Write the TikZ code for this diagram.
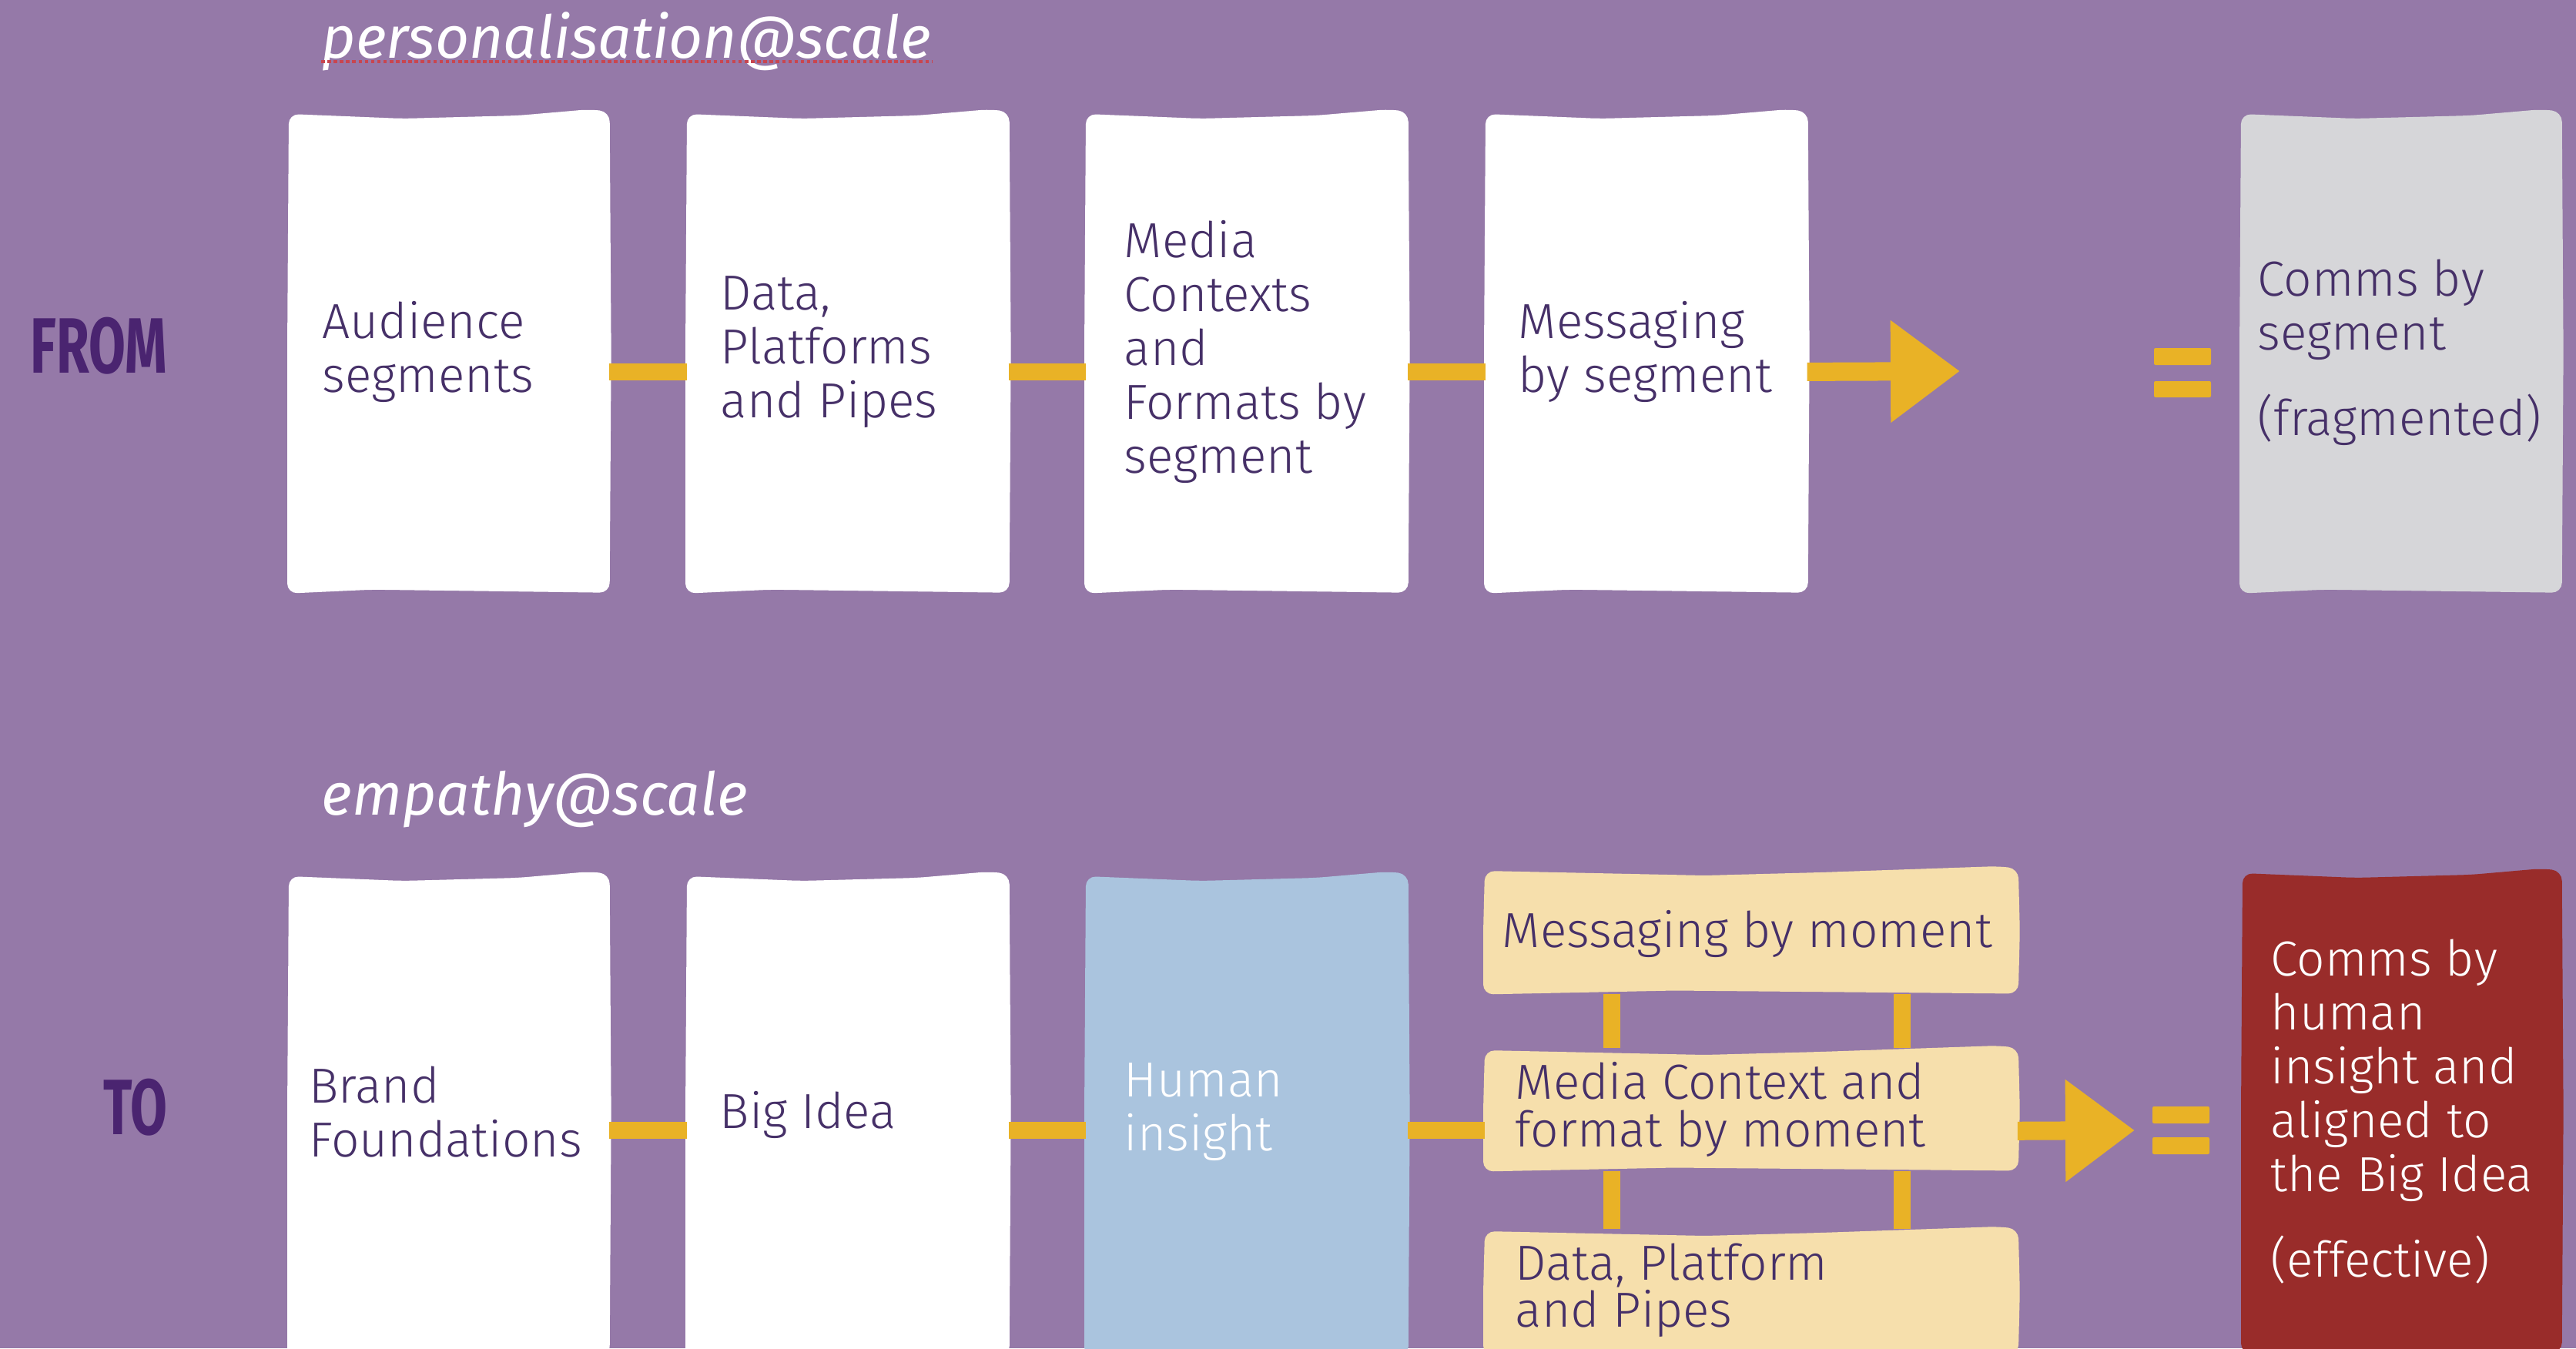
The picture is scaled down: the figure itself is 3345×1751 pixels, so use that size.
\documentclass[tikz,border=0pt]{standalone}
\usepackage{fontspec}
\setmainfont{Fira Sans}[UprightFont=* Light, ItalicFont=* Italic, BoldFont=* Bold]
\newfontfamily\headfont{Fira Sans}[FakeStretch=0.68]
\usetikzlibrary{arrows.meta}

\definecolor{bgpurple}{RGB}{149,121,168}
\definecolor{gold}{RGB}{233,178,38}
\definecolor{ink}{RGB}{70,48,104}
\definecolor{rowlabel}{RGB}{74,36,112}
\definecolor{greybox}{RGB}{214,214,217}
\definecolor{bluebox}{RGB}{170,196,222}
\definecolor{creambox}{RGB}{246,223,172}
\definecolor{redbox}{RGB}{153,44,42}
\definecolor{spellred}{RGB}{200,70,80}

\tikzset{
  panel/.style={inner sep=0pt, anchor=north west},
  txt/.style={inner sep=0pt, anchor=west, align=left, text=ink,
    font=\fontsize{18.2pt}{19.9pt}\selectfont},
  tighttxt/.style={txt, font=\fontsize{18.2pt}{17.6pt}\selectfont},
  heading/.style={inner sep=0pt, anchor=base west, text=white,
    font=\fontsize{21.8pt}{24pt}\selectfont\itshape},
  rowtag/.style={inner sep=0pt, anchor=east, text=rowlabel,
    font=\headfont\bfseries\fontsize{29pt}{30pt}\selectfont},
  conn/.style={draw=gold, line width=0.22cm},
  flow/.style={draw=gold, line width=0.24cm,
    -{Triangle[length=0.9cm, width=1.27cm]}},
  eqbar/.style={fill=gold, rounded corners=0.02cm},
}

% hand-cut card filled around the frame of a named node
\newcommand\handpanel[2]{%
  \fill[#2, rounded corners=0.13cm]
    ([yshift=-0.03cm]#1.north west)
    -- ([xshift=-0.6cm, yshift=-0.09cm]#1.north)
    -- ([xshift=0.9cm, yshift=-0.05cm]#1.north)
    -- ([xshift=-0.25cm, yshift=0.03cm]#1.north east)
    -- ([xshift=0.01cm]#1.north east)
    -- ([xshift=0.03cm]#1.east)
    -- ([xshift=0.01cm]#1.south east)
    -- ([xshift=-1.0cm, yshift=0.04cm]#1.south)
    -- ([xshift=-0.02cm, yshift=-0.01cm]#1.south west)
    -- ([xshift=-0.02cm]#1.west)
    -- cycle;}

\begin{document}
\begin{tikzpicture}[x=0.01cm, y=-0.01cm]
\fill[bgpurple] (0,0) rectangle (3345,1751);
\useasboundingbox (0,0) rectangle (3345,1751);
\clip (0,0) rectangle (3345,1751);

% headings
\node[heading] (ttlA) at (417,75) {personalisation@scale};
\draw[spellred, densely dotted, line width=1.3pt]
  ([yshift=-0.05cm]ttlA.base west) -- ([yshift=-0.05cm]ttlA.base east);
\node[heading] (ttlB) at (417,1058) {empathy@scale};

% row tags
\node[rowtag] (from) at (218,449) {FROM};
\node[rowtag] (to) at (218,1438) {TO};

% ---------- FROM row ----------
\node[panel, minimum width=4.14cm, minimum height=6.23cm] (a1) at (375,145) {};
\node[panel, minimum width=4.16cm, minimum height=6.23cm] (a2) at (892,145) {};
\node[panel, minimum width=4.16cm, minimum height=6.23cm] (a3) at (1410,145) {};
\node[panel, minimum width=4.16cm, minimum height=6.23cm] (a4) at (1929,145) {};
\node[panel, minimum width=4.14cm, minimum height=6.23cm] (a5) at (2910,145) {};
\handpanel{a1}{white}
\handpanel{a2}{white}
\handpanel{a3}{white}
\handpanel{a4}{white}
\handpanel{a5}{greybox}

\node[txt, xshift=0.43cm] (ta1) at (a1.west) {Audience\\segments};
\node[txt, xshift=0.43cm] (ta2) at (a2.west) {Data,\\Platforms\\and Pipes};
\node[txt, xshift=0.49cm] (ta3) at (a3.west) {Media\\Contexts\\and\\Formats by\\segment};
\node[txt, xshift=0.42cm] (ta4) at (a4.west) {Messaging\\by segment};
\node[txt, xshift=0.21cm] (ta5) at (a5.west) {Comms by\\segment\\[0.41cm](fragmented)};

\draw[conn] ([yshift=-0.255cm]a1.east) -- ([yshift=-0.255cm]a2.west);
\draw[conn] ([yshift=-0.255cm]a2.east) -- ([yshift=-0.255cm]a3.west);
\draw[conn] ([yshift=-0.255cm]a3.east) -- ([yshift=-0.255cm]a4.west);
\coordinate (tipA) at (2545,482);
\draw[flow] ([yshift=-0.255cm]a4.east) -- (tipA);

\fill[eqbar] (2797,452) rectangle (2871,474);
\fill[eqbar] (2797,495) rectangle (2871,516);

% ---------- TO row ----------
\node[panel, minimum width=4.14cm, minimum height=6.25cm] (b1) at (375,1135) {};
\node[panel, minimum width=4.16cm, minimum height=6.25cm] (b2) at (892,1135) {};
\node[panel, minimum width=4.16cm, minimum height=6.25cm] (b3) at (1410,1135) {};
\node[panel, minimum width=6.90cm, minimum height=1.61cm] (c1) at (1928,1128) {};
\node[panel, minimum width=6.90cm, minimum height=1.58cm] (c2) at (1928,1361) {};
\node[panel, minimum width=6.90cm, minimum height=1.62cm] (c3) at (1928,1596) {};
\node[panel, minimum width=4.12cm, minimum height=6.24cm] (b5) at (2912,1131) {};
\handpanel{b1}{white}
\handpanel{b2}{white}
\handpanel{b3}{bluebox}
\handpanel{c1}{creambox}
\handpanel{c2}{creambox}
\handpanel{c3}{creambox}
\handpanel{b5}{redbox}

\node[txt, xshift=0.26cm, yshift=0.04cm] (tb1) at (b1.west) {Brand\\Foundations};
\node[txt, xshift=0.42cm] (tb2) at (b2.west) {Big Idea};
\node[txt, xshift=0.49cm, yshift=0.04cm, text=white] (tb3) at (b3.west) {Human\\insight};
\node[tighttxt, xshift=0.22cm, yshift=-0.04cm] (tc1) at (c1.west) {Messaging by moment};
\node[tighttxt, xshift=0.39cm] (tc2) at (c2.west) {Media Context and\\format by moment};
\node[tighttxt, xshift=0.39cm, yshift=0.02cm] (tc3) at (c3.west) {Data, Platform\\and Pipes};
\node[txt, xshift=0.36cm, text=white] (tb5) at (b5.west)
  {Comms by\\human\\insight and\\aligned to\\the Big Idea\\[0.41cm](effective)};

\draw[conn] ([yshift=-0.2cm]b1.east) -- ([yshift=-0.2cm]b2.west);
\draw[conn] ([yshift=-0.2cm]b2.east) -- ([yshift=-0.2cm]b3.west);
\draw[conn] ([yshift=-0.2cm]b3.east) -- ([yshift=-0.2cm]b3.east -| c2.west);

\draw[conn] ([xshift=1.65cm]c1.south west) -- ([xshift=1.65cm]c2.north west);
\draw[conn] ([xshift=5.42cm]c1.south west) -- ([xshift=5.42cm]c2.north west);
\draw[conn] ([xshift=1.65cm]c2.south west) -- ([xshift=1.65cm]c3.north west);
\draw[conn] ([xshift=5.42cm]c2.south west) -- ([xshift=5.42cm]c3.north west);

\coordinate (tipB) at (2772,1468);
\draw[flow] ([yshift=-0.28cm]c2.east) -- (tipB);

\fill[eqbar] (2795,1437) rectangle (2869,1459);
\fill[eqbar] (2795,1477) rectangle (2869,1499);
\end{tikzpicture}
\end{document}
